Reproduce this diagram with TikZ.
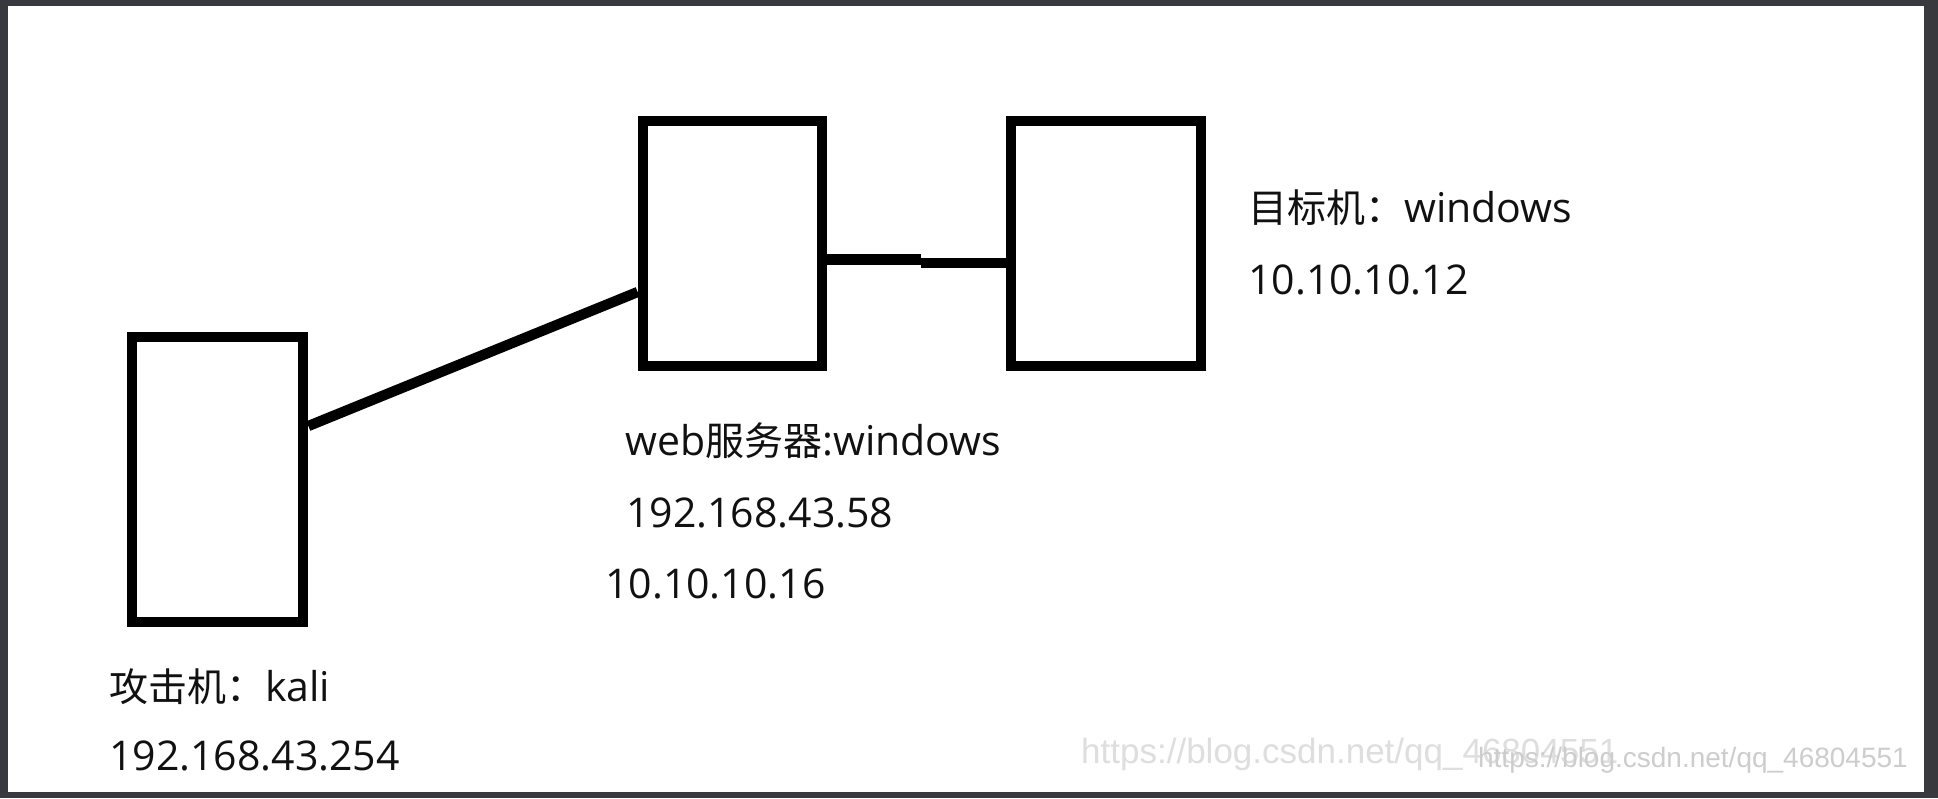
\documentclass[tikz,border=0pt]{standalone}
\usepackage{fontspec}
\setmainfont{Open Sans}
\newfontfamily\cjkfont{Noto Sans CJK SC}
\newfontfamily\wmfont{Liberation Sans}
\newcommand\zht[1]{{\cjkfont\fontsize{39}{47}\selectfont #1}}
\definecolor{frame}{HTML}{37393E}
\definecolor{ink}{HTML}{111111}
\definecolor{wmlight}{HTML}{DEDEDE}
\definecolor{wmdark}{HTML}{CDCDCD}
\begin{document}
\begin{tikzpicture}[x=1pt,y=-1pt,
  box/.style={draw=black, line width=10.7pt, rectangle, inner sep=0pt, fill=white},
  link/.style={draw=black, line width=10.3pt},
  lbl/.style={anchor=base west, inner sep=0pt, text=ink, font=\fontsize{41}{49}\selectfont},
  wm/.style={inner sep=0pt, font=\wmfont}]
\useasboundingbox (0,0) rectangle (1938,798);
\fill[frame] (0,0) rectangle (1938,798);
\fill[white] (8,6) rectangle (1924,792);
% watermarks
\node[wm, anchor=base west, text=wmlight, font=\wmfont\fontsize{35}{42}\selectfont] (wm1) at (1081,763) {https://blog.csdn.net/qq\_46804551};
\node[wm, anchor=base east, text=wmdark, font=\wmfont\fontsize{28}{34}\selectfont] (wm2) at (1908,767) {https://blog.csdn.net/qq\_46804551};
% boxes
\node[box, minimum width=171pt, minimum height=285pt] (kali) at (217.5,479.5) {};
\node[box, minimum width=179pt, minimum height=245pt] (web) at (732.5,243.5) {};
\node[box, minimum width=190pt, minimum height=245pt] (target) at (1106,243.5) {};
% connectors
\coordinate (j1) at (921,259.6);
\coordinate (j2) at (921,263.3);
\draw[link] ([yshift=53.5pt]kali.east) -- ([yshift=-48.5pt]web.west);
\draw[link] ([yshift=-16.1pt]web.east) -- (j1);
\draw[link] (j2) -- ([yshift=-19.8pt]target.west);
% labels
\node[lbl] (t1) at (1248,222) {\zht{目标机：}windows};
\node[lbl] (t2) at (1248,294) {10.10.10.12};
\node[lbl] (w1) at (625,455) {web\zht{服务器}:windows};
\node[lbl] (w2) at (626,527) {192.168.43.58};
\node[lbl] (w3) at (605,598) {10.10.10.16};
\node[lbl] (k1) at (109,701) {\zht{攻击机：}kali};
\node[lbl] (k2) at (109,770) {192.168.43.254};
\end{tikzpicture}
\end{document}
